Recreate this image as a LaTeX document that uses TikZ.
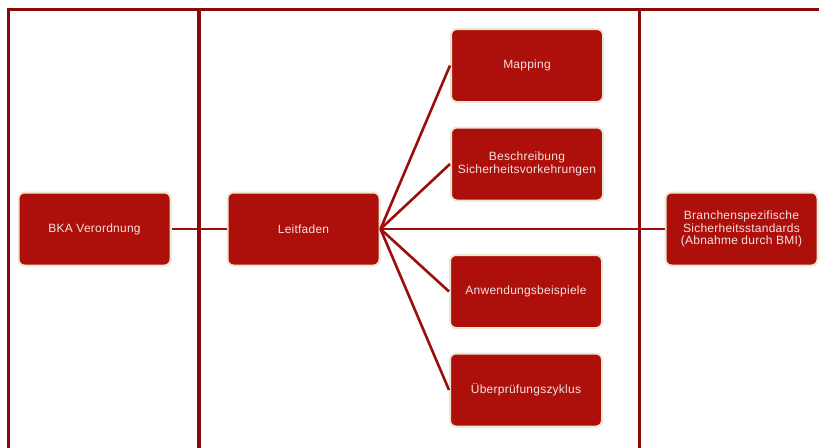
\documentclass[tikz,border=0pt]{standalone}
\usepackage{fontspec}
\setmainfont{Liberation Sans}[LetterSpace=2]
\definecolor{boxred}{HTML}{AD0F0A}
\definecolor{boxrim}{HTML}{EDE8D6}
\definecolor{framered}{HTML}{8A0A0A}
\definecolor{linkred}{HTML}{9C0E0C}
\definecolor{boxtext}{HTML}{F4E2E0}
\tikzset{
  block/.style={rectangle, rounded corners=6pt, fill=boxred, draw=boxrim,
    line width=2pt, minimum width=152pt, minimum height=73pt,
    text=boxtext, align=center, inner sep=2pt,
    font=\fontsize{12}{12.6}\selectfont},
  frameline/.style={draw=framered, line width=3.5pt},
  link/.style={draw=linkred, line width=2.6pt}
}
\begin{document}
\begin{tikzpicture}[x=1pt,y=-1pt]
\useasboundingbox (0,0) rectangle (819,447);
\fill[white] (0,0) rectangle (819,447);

% column frame
\coordinate (tl) at (8.7,9.7);
\coordinate (tr) at (822,9.7);
\coordinate (bl) at (8.7,450);
\coordinate (c1t) at (199,9.7);
\coordinate (c1b) at (199,450);
\coordinate (c2t) at (639.7,9.7);
\coordinate (c2b) at (639.7,450);

% boxes
\node[block] (bka) at (94.5,229) {BKA Verordnung};
\node[block] (leit) at (303.5,229) {Leitfaden};
\node[block] (map) at (527,65.5) {Mapping};
\node[block] (besch) at (527,164) {Beschreibung\\Sicherheitsvorkehrungen};
\node[block] (anw) at (526,291.5) {Anwendungsbeispiele};
\node[block] (ueb) at (526,390) {Überprüfungszyklus};
\node[block] (bra) at (741.5,229) {Branchenspezifische\\Sicherheitsstandards\\(Abnahme durch BMI)};

% connectors
\draw[link] (bka.east) -- (leit.west);
\draw[link] (leit.east) -- (bra.west);
\foreach \t in {map,besch,anw,ueb}
  \draw[link] (leit.east) -- (\t.west);

% frame lines over the connectors
\draw[frameline] (bl) -- (tl) -- (tr);
\draw[frameline] (c1t) -- (c1b);
\draw[frameline] (c2t) -- (c2b);
\end{tikzpicture}
\end{document}
